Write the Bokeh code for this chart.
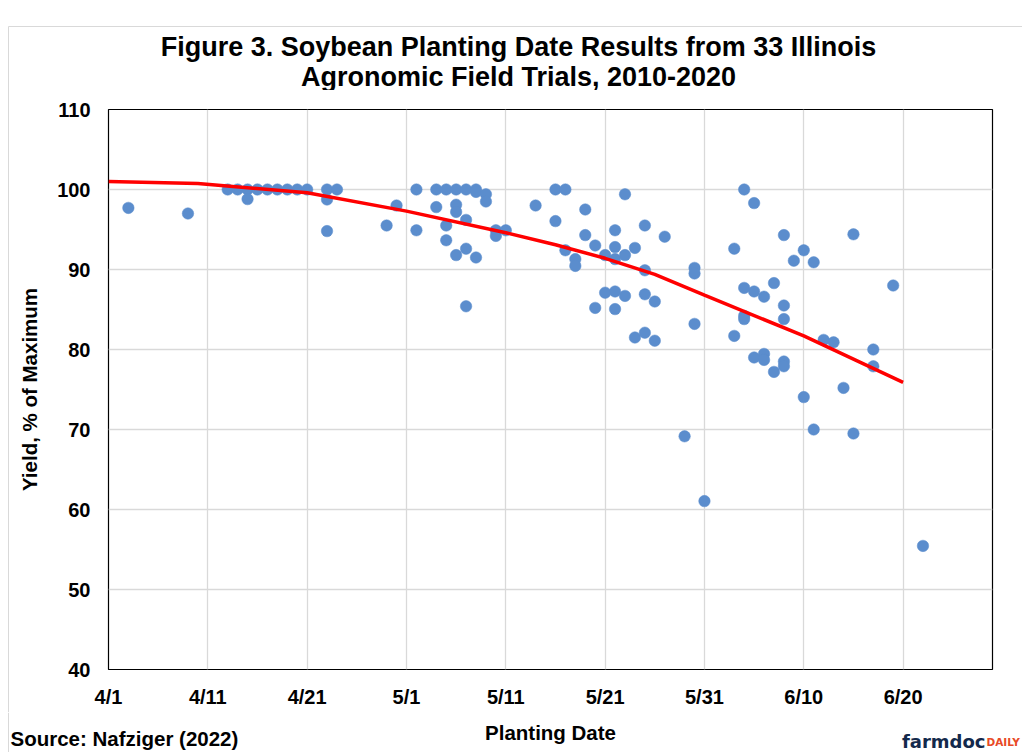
from bokeh.plotting import figure
from bokeh.models import Label, FixedTicker, Range1d, ColumnDataSource, Spacer
from bokeh.layouts import column, row
from bokeh.embed import file_html
from bokeh.resources import INLINE

# ---------------- data (planting day = days after April 1) ----------------
plant_day = [2, 8,
             12, 13, 14, 15, 16, 17, 18, 19, 20, 14,
             22, 23, 22, 22, 28, 29, 31, 31,
             33, 34, 35, 36, 37, 37, 38, 38,
             33, 35, 35, 36, 34, 34, 35, 36, 37, 36,
             39, 39, 40,
             43, 45, 46, 45, 48, 48, 46, 47, 47, 49, 50, 51, 51, 51, 52, 52, 53, 54, 54, 56,
             50, 51, 52, 54, 55, 49, 51, 53, 54, 55,
             59, 59, 59, 58, 60,
             64, 65, 68, 63, 70, 69, 71, 75, 79,
             64, 65, 66, 67, 68, 68, 64, 64, 63,
             72, 73, 77, 77, 65, 66, 66, 68, 68, 67,
             70, 74, 71, 75, 82]
yield_pct = [97.7, 97.0,
             100, 100, 100, 100, 100, 100, 100, 100, 100, 98.8,
             100, 100, 98.75, 94.8, 95.5, 98.0, 100, 94.9,
             100, 100, 100, 100, 100, 99.7, 99.4, 98.5,
             97.8, 98.1, 97.2, 96.2, 95.5, 93.65, 91.8, 92.6, 91.5, 85.4,
             94.9, 94.2, 94.9,
             98.0, 100, 100, 96.05, 97.5, 94.3, 92.4, 91.3, 90.45, 93.0, 91.8, 94.9, 92.8, 91.3, 99.4, 91.8, 92.7, 95.5, 89.9, 94.1,
             87.1, 87.25, 86.7, 86.9, 86.0, 85.2, 85.05, 81.5, 82.1, 81.1,
             90.2, 89.5, 83.2, 69.15, 61.05,
             100, 98.3, 94.3, 92.6, 92.4, 91.1, 90.9, 94.4, 88.0,
             87.7, 87.25, 86.6, 88.3, 85.5, 83.8, 84.2, 83.8, 81.7,
             81.2, 80.9, 80.0, 77.9, 79.0, 79.45, 78.7, 78.5, 77.9, 77.2,
             74.05, 75.2, 70.0, 69.5, 55.45]
trend_day = [0, 9, 20, 30, 40, 45, 50, 55, 60, 70, 80]
trend_yield = [101.0, 100.75, 99.6, 97.3, 94.6, 93.1, 91.4, 89.4, 86.8, 81.7, 75.9]
x_tick_days = [0, 10, 20, 30, 40, 50, 60, 70, 80]
x_tick_labels = ["4/1", "4/11", "4/21", "5/1", "5/11", "5/21", "5/31", "6/10", "6/20"]
y_ticks = [40, 50, 60, 70, 80, 90, 100, 110]

title_lines = ["Figure 3. Soybean Planting Date Results from 33 Illinois",
               "Agronomic Field Trials, 2010-2020"]
x_title = "Planting Date"
y_title = "Yield, % of Maximum"
source_text = "Source: Nafziger (2022)"

FONT = "Liberation Sans"
W = 1022
BORDER = "#D9D9D9"


def text_panel(h):
    f = figure(width=W, height=h, x_range=Range1d(0, W), y_range=Range1d(h, 0),
               output_backend="svg", toolbar_location=None, min_border=0,
               x_axis_location=None, y_axis_location=None)
    f.outline_line_color = None
    f.grid.visible = False
    f.background_fill_color = "white"
    f.border_fill_color = "white"
    return f


# ---------------- header (title) ----------------
HH = 90
head = text_panel(HH)
head.line([8, W], [26, 26], line_color=BORDER, line_width=1)
head.line([8, 8], [26, HH], line_color=BORDER, line_width=1)
for t, py in zip(title_lines, [46, 76]):
    head.add_layout(Label(x=518, y=py, text=t, text_align="center", text_baseline="middle",
                          text_font=FONT, text_font_style="bold", text_font_size="27px",
                          text_color="black"))

# ---------------- main chart ----------------
MH = 622
MW = W - 9
p = figure(width=MW, height=MH, output_backend="svg", toolbar_location=None,
           x_range=Range1d(0, 89), y_range=Range1d(40, 110),
           min_border_left=99, min_border_right=30, min_border_top=19,
           min_border_bottom=43)
p.background_fill_color = "white"
p.border_fill_color = "white"
p.outline_line_color = "black"
p.outline_line_width = 1.2

p.xgrid.grid_line_color = "#D9D9D9"
p.ygrid.grid_line_color = "#D9D9D9"
p.xgrid.grid_line_width = 1.3
p.ygrid.grid_line_width = 1.3

p.xaxis.ticker = FixedTicker(ticks=x_tick_days)
p.xaxis.major_label_overrides = {d: l for d, l in zip(x_tick_days, x_tick_labels)}
p.yaxis.ticker = FixedTicker(ticks=y_ticks)
for ax in (p.xaxis, p.yaxis):
    ax.axis_line_color = None
    ax.major_tick_line_color = None
    ax.minor_tick_line_color = None
    ax.major_tick_out = 0
    ax.major_tick_in = 0
    ax.major_label_text_font = FONT
    ax.major_label_text_font_style = "bold"
    ax.major_label_text_font_size = "20px"
    ax.major_label_text_color = "black"
    ax.axis_label_text_font = FONT
    ax.axis_label_text_font_style = "bold"
    ax.axis_label_text_font_size = "20.5px"
    ax.axis_label_text_color = "black"
p.yaxis.axis_label = y_title
p.xaxis.major_label_standoff = 16
p.yaxis.major_label_standoff = 18
p.yaxis.axis_label_standoff = 13

src = ColumnDataSource(dict(x=plant_day, y=yield_pct))
p.scatter("x", "y", source=src, size=11.5, fill_color="#5B8DCD", line_color="#5B8DCD",
          line_width=0.5)
p.line(trend_day, trend_yield, line_color="#FF0000", line_width=3.5)

main_row = row(Spacer(width=8, height=MH),
               Spacer(width=1, height=MH, styles={"background-color": BORDER}),
               p)

# ---------------- footer ----------------
FH = 40
foot = text_panel(FH)
foot.line([8, 8], [0, FH], line_color=BORDER, line_width=1)
foot.add_layout(Label(x=550, y=20, text=x_title, text_align="center", text_baseline="middle",
                      text_font=FONT, text_font_style="bold", text_font_size="20.5px",
                      text_color="black"))
foot.add_layout(Label(x=10, y=26, text=source_text, text_align="left", text_baseline="middle",
                      text_font=FONT, text_font_style="bold", text_font_size="20.5px",
                      text_color="black"))
foot.add_layout(Label(x=985, y=29, text="farmdoc", text_align="right",
                      text_baseline="alphabetic", text_font="DejaVu Sans",
                      text_font_style="bold", text_font_size="18px", text_color="#13294B"))
foot.add_layout(Label(x=986, y=29, text="DAILY", text_align="left",
                      text_baseline="alphabetic", text_font="DejaVu Sans",
                      text_font_style="bold", text_font_size="10.5px", text_color="#E84A27"))

layout = column(head, main_row, foot)
open("out.html", "w").write(file_html(layout, INLINE))
